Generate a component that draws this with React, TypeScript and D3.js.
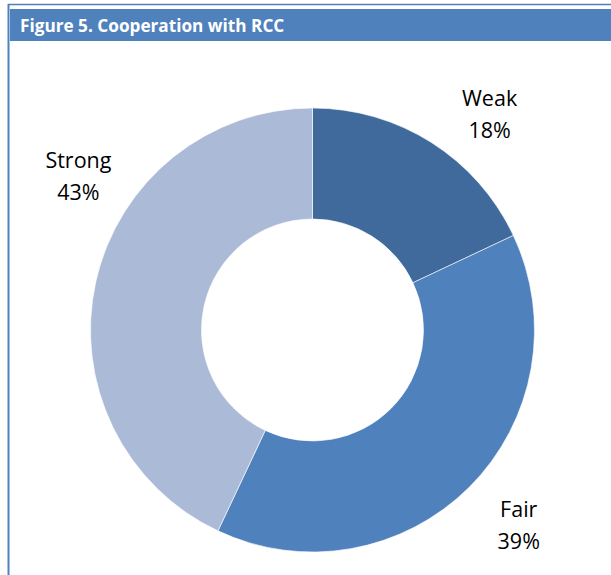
import React, { useEffect, useRef } from 'react';
import * as d3 from 'd3';

const categories = ['Weak', 'Fair', 'Strong'];
const shares = [18, 39, 43];
const sliceColors = ['#3f6a9b', '#4f81bd', '#aabad7'];
const title = 'Figure 5. Cooperation with RCC';

interface Slice {
  name: string;
  value: number;
  color: string;
}

const slices: Slice[] = categories.map((name, i) => ({ name, value: shares[i], color: sliceColors[i] }));

// nudge labels away from the pure mid-angle, the way Excel's best-fit does
const labelAngleShift: Record<string, number> = { Weak: 6.5, Fair: -2, Strong: 21.3 };

export default function App() {
  const ref = useRef<SVGSVGElement>(null);

  useEffect(() => {
    document.body.style.margin = '0';
    if (!ref.current) return;
    const svg = d3.select(ref.current);
    svg.selectAll('*').remove();

    const width = 611;
    const height = 575;
    const cx = 312.5;
    const cy = 330;
    const outer = 222;
    const inner = 111;

    // frame
    svg.append('line')
      .attr('x1', 8).attr('x2', width).attr('y1', 4.5).attr('y2', 4.5)
      .attr('stroke', '#4f81bd').attr('stroke-width', 1.5);
    svg.append('line')
      .attr('x1', 8.5).attr('x2', 8.5).attr('y1', 4).attr('y2', height)
      .attr('stroke', '#4f81bd').attr('stroke-width', 2);

    // header bar
    svg.append('rect')
      .attr('x', 10).attr('y', 9).attr('width', width - 10).attr('height', 32)
      .attr('fill', '#4f81bd');
    svg.append('text')
      .attr('x', 20).attr('y', 32)
      .attr('fill', '#fff')
      .attr('font-family', 'Open Sans, sans-serif')
      .attr('font-weight', 700)
      .attr('font-size', 17.2)
      .text(title);

    const pie = d3.pie<Slice>().value(d => d.value).sort(null);
    const arc = d3.arc<d3.PieArcDatum<Slice>>().innerRadius(inner).outerRadius(outer);

    const g = svg.append('g').attr('transform', `translate(${cx},${cy})`);
    const arcs = pie(slices);

    g.selectAll('path')
      .data(arcs)
      .enter().append('path')
      .attr('d', arc)
      .attr('fill', d => d.data.color)
      .attr('stroke', '#fff')
      .attr('stroke-width', 0.6);

    const labelR = 282;
    const lbl = g.selectAll('text.lbl')
      .data(arcs)
      .enter().append('text')
      .attr('class', 'lbl')
      .attr('text-anchor', 'middle')
      .attr('font-family', 'Open Sans, sans-serif')
      .attr('font-size', 21.5)
      .attr('fill', '#000')
      .attr('transform', d => {
        const a = (d.startAngle + d.endAngle) / 2 + (labelAngleShift[d.data.name] * Math.PI) / 180;
        return `translate(${labelR * Math.sin(a)},${-labelR * Math.cos(a)})`;
      });
    lbl.append('tspan').attr('x', 0).attr('dy', -5).text(d => d.data.name);
    lbl.append('tspan').attr('x', 0).attr('dy', 32).text(d => `${d.data.value}%`);
  }, []);

  return <svg ref={ref} width={611} height={575} style={{ display: 'block' }} />;
}
